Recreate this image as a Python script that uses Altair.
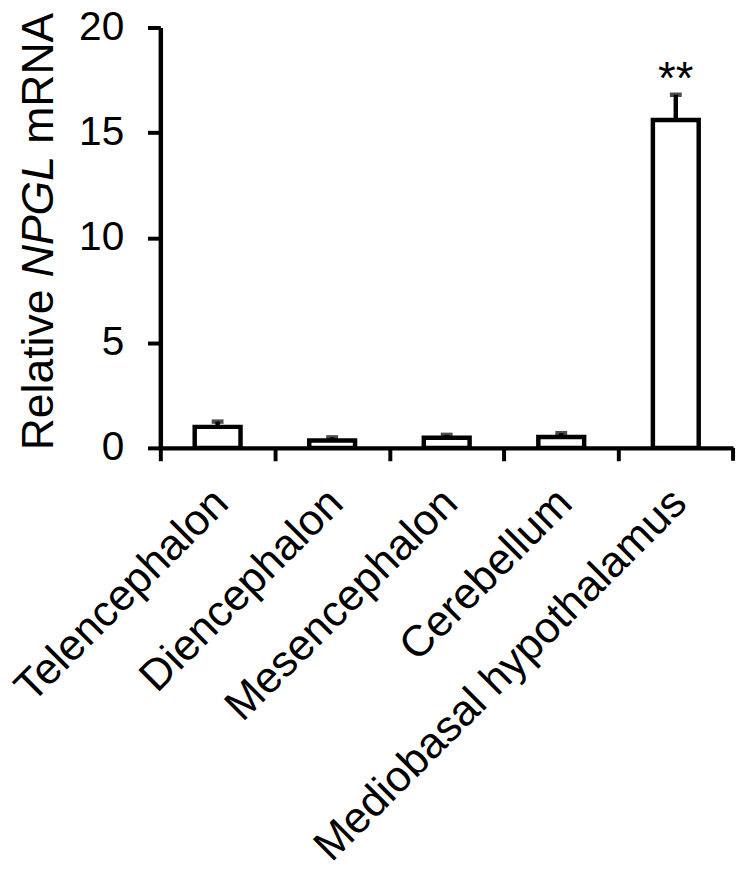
import altair as alt
import pandas as pd

# ---- data ----
regions = ["Telencephalon", "Diencephalon", "Mesencephalon", "Cerebellum", "Mediobasal hypothalamus"]
means = [1.0, 0.35, 0.48, 0.52, 15.6]
errors = [0.25, 0.15, 0.14, 0.18, 1.2]
signif = ["", "", "", "", "**"]
y_ticks = [0, 5, 10, 15, 20]
title_parts = ["Relative", "NPGL", "mRNA"]

# ---- styling ----
W, H = 579, 425
STEP = W / len(regions)
FONT = "Liberation Sans"
LW = 4.5

df = pd.DataFrame({"region": regions, "mean": means, "err": errors, "sig": signif})
df["top"] = df["mean"] + df["err"]

x_axis = alt.Axis(
    labelAngle=-45, labelFontSize=44, labelFont=FONT, labelColor="black",
    tickOffset=-STEP / 2, labelOffset=STEP / 2 - 12, tickSize=13, tickWidth=4,
    tickColor="black", domainWidth=LW, domainColor="black", labelPadding=20,
    labelLimit=0, title=None,
)
y_axis = alt.Axis(
    values=y_ticks, title=None, labelFontSize=41, labelFont=FONT, labelColor="black",
    labelPadding=24, tickSize=13, tickWidth=4, tickColor="black",
    domainWidth=LW, domainColor="black", grid=False,
)
x_enc = alt.X("region:N", sort=regions, axis=x_axis,
              scale=alt.Scale(paddingInner=0.6, paddingOuter=0.3))
y_scale = alt.Scale(domain=[0, 20], nice=False, zero=True)

base = alt.Chart(df)

bars = base.mark_bar(fill="white", stroke="black", strokeWidth=LW).encode(
    x=x_enc, y=alt.Y("mean:Q", scale=y_scale, axis=y_axis)
)
err_rule = base.mark_rule(color="black", strokeWidth=4.5).encode(
    x=x_enc, y=alt.Y("mean:Q", scale=y_scale, axis=y_axis), y2="top:Q"
)
err_cap = base.mark_tick(color="black", thickness=4.5, size=12).encode(
    x=x_enc, y=alt.Y("top:Q", scale=y_scale, axis=y_axis)
)
stars = base.mark_text(fontSize=46, font=FONT, color="black", baseline="alphabetic", dy=-1).encode(
    x=x_enc, y=alt.Y("top:Q", scale=y_scale, axis=y_axis), text="sig:N"
)

# end tick of the category axis
end_tick = alt.Chart(pd.DataFrame({"a": [0]})).mark_rule(color="black", strokeWidth=4).encode(
    x=alt.value(W), y=alt.value(H), y2=alt.value(H + 13)
)

# y-axis title with italic gene name
title_y = [427.5, 252.5, 117.5]
title_style = ["normal", "italic", "normal"]
title_layers = []
for part, ypos, style in zip(title_parts, title_y, title_style):
    title_layers.append(
        alt.Chart(pd.DataFrame({"t": [part]})).mark_text(
            angle=270, align="left", baseline="alphabetic", fontSize=45,
            font=FONT, fontStyle=style, color="black"
        ).encode(x=alt.value(-109), y=alt.value(ypos), text="t:N")
    )

chart = alt.layer(bars, err_rule, err_cap, stars, end_tick, *title_layers).properties(
    width=W, height=H,
    padding={"left": 154, "top": 15, "right": 6, "bottom": 420},
    autosize=alt.AutoSizeParams(type="none"),
    background="white",
).configure_view(stroke=None)

chart.save("out.html", embed_options={"renderer": "svg", "actions": False})
